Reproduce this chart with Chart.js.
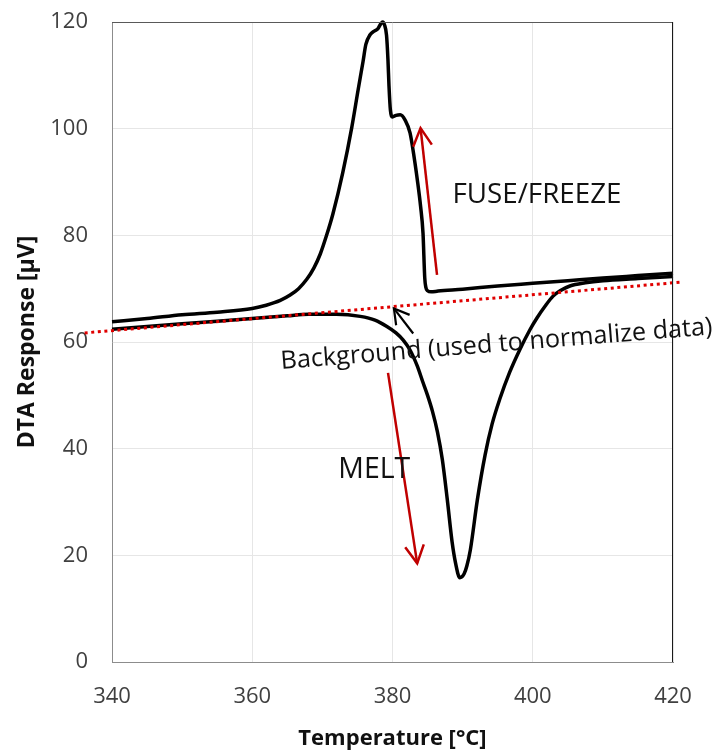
<!DOCTYPE html>
<html><head><meta charset="utf-8">
<script src="https://cdn.jsdelivr.net/npm/chart.js@4/dist/chart.umd.min.js"></script>
<style>html,body{margin:0;padding:0;background:#fff}canvas{display:block}</style>
</head><body>
<canvas id="c" width="719" height="751"></canvas>
<script>
// ---- data ----
const meltT = [340,345,350,355,360,365,368,372,375.4,377.5,379.2,380.5,381.5,382.5,383.5,384.3,385.0,385.7,386.4,387.1,387.8,388.5,389,389.6,390.2,390.6,391.1,392.1,393.2,394.2,395.3,396.7,398.2,399.6,400.6,401.8,402.9,403.9,405.3,407.5,410,415,420];
const meltV = [62.4,62.9,63.4,63.9,64.4,64.9,65.2,65.2,64.8,64.1,62.9,61.7,60.4,58.5,55.6,52.6,50,47,43.2,38,30.6,22.5,18.5,15.8,16.5,18,21,30.4,38.8,44.6,49.3,54.3,58.7,62.3,64.5,66.8,68.6,69.6,70.5,71.1,71.5,71.9,72.3];
const freezeT = [420,415,410,405,400,395,390,386.5,385.5,385.0,384.75,384.6,384.35,384.0,383.6,383.1,382.5,381.8,381.1,380.5,380.0,379.7,379.5,379.35,379.15,378.85,378.6,378.3,377.9,377.4,376.8,376.2,375.8,375.1,374.2,372.9,371.5,370.6,369.7,368.8,367.8,366.6,365.4,364,362,360,355,350,345,340];
const freezeV = [72.9,72.45,72.0,71.5,71.0,70.5,69.9,69.55,69.4,69.6,70.3,72,80.4,85.5,89.8,94.5,99.2,101.6,102.6,102.5,102.2,103.5,108,113,117.5,119.5,120,119.6,118.7,118.3,117.6,115.8,112.6,107.3,100.3,91.7,84.0,80.0,76.5,73.9,71.8,70.0,68.8,67.8,66.9,66.3,65.6,65.1,64.4,63.8];
const backgroundT = [336.1, 421.4];
const backgroundV = [61.7, 71.25];
const xTickValues = [340,360,380,400,420];
const yTickValues = [0,20,40,60,80,100,120];
const xTitle = 'Temperature [°C]';
const yTitle = 'DTA Response [µV]';

// ---- annotations (positions in data space) ----
const arrowNotes = [
  {from:[386.35,72.6], to:[384.0,100.1], color:'#c00000', width:2.5, head:20, ang:28},
  {from:[379.36,54.2], to:[383.52,18.5], color:'#c00000', width:2.5, head:20, ang:28},
  {from:[382.95,61.6], to:[380.2,66.3], color:'#000000', width:2.2, head:17, ang:30}
];
const textNotes = [
  {text:'FUSE/FREEZE', at:[400.6,87.6], width:169, rot:0},
  {text:'MELT', at:[377.4,36], width:72, rot:0},
  {text:'Background (used to normalize data)', at:[394.83,59.53], width:433, rot:-4.6}
];

const zip = (a,b) => a.map((v,i)=>({x:v,y:b[i]}));
const FONT = "'Open Sans', 'Noto Sans', sans-serif";

const notesPlugin = {
  id:'notes',
  afterDraw(chart){
    const {ctx, chartArea:a, scales:{x,y}} = chart;
    ctx.save();
    ctx.lineWidth = 1;
    ctx.strokeStyle = '#595959';
    ctx.beginPath(); ctx.moveTo(a.left, a.top+0.5); ctx.lineTo(a.right, a.top+0.5); ctx.stroke();
    ctx.strokeStyle = '#1a1a1a';
    ctx.beginPath(); ctx.moveTo(a.right-0.5, a.top); ctx.lineTo(a.right-0.5, a.bottom); ctx.stroke();
    arrowNotes.forEach(n=>{
      const x0=x.getPixelForValue(n.from[0]), y0=y.getPixelForValue(n.from[1]);
      const x1=x.getPixelForValue(n.to[0]), y1=y.getPixelForValue(n.to[1]);
      const th=Math.atan2(y0-y1, x0-x1);
      const r=n.ang*Math.PI/180;
      ctx.strokeStyle=n.color; ctx.lineWidth=n.width; ctx.lineCap='butt'; ctx.lineJoin='miter';
      ctx.beginPath(); ctx.moveTo(x0,y0); ctx.lineTo(x1,y1); ctx.stroke();
      ctx.beginPath();
      ctx.moveTo(x1+n.head*Math.cos(th+r), y1+n.head*Math.sin(th+r));
      ctx.lineTo(x1,y1);
      ctx.lineTo(x1+n.head*Math.cos(th-r), y1+n.head*Math.sin(th-r));
      ctx.stroke();
    });
    textNotes.forEach(n=>{
      ctx.font = '100px ' + FONT;
      const w = ctx.measureText(n.text).width;
      const size = 100*n.width/w;
      ctx.font = size.toFixed(2)+'px '+FONT;
      ctx.fillStyle='#111111';
      ctx.textAlign='center'; ctx.textBaseline='middle';
      const px=x.getPixelForValue(n.at[0]), py=y.getPixelForValue(n.at[1]);
      ctx.save(); ctx.translate(px,py); ctx.rotate(n.rot*Math.PI/180);
      ctx.fillText(n.text,0,0); ctx.restore();
    });
    ctx.restore();
  }
};

new Chart(document.getElementById('c'), {
  type:'scatter',
  data:{datasets:[
    {label:'Background', data:zip(backgroundT,backgroundV), showLine:true, borderColor:'#e00000', borderWidth:3, borderDash:[3,3.6], pointRadius:0, clip:false, order:0, tension:0},
    {label:'Melt', data:zip(meltT,meltV), showLine:true, borderColor:'#000', borderWidth:3.5, pointRadius:0, cubicInterpolationMode:'monotone', order:1, clip:false},
    {label:'Freeze', data:zip(freezeT,freezeV), showLine:true, borderColor:'#000', borderWidth:3.5, pointRadius:0, cubicInterpolationMode:'monotone', order:2, clip:false}
  ]},
  options:{
    responsive:false, animation:false,
    layout:{padding:{left:0, top:22, right:46, bottom:0}},
    plugins:{legend:{display:false}, tooltip:{enabled:false}},
    scales:{
      x:{type:'linear', min:340, max:420,
        afterBuildTicks:s=>{s.ticks = xTickValues.map(v=>({value:v}));},
        afterFit:s=>{s.height=89; s.paddingLeft=0; s.paddingRight=0;},
        grid:{color:'#e6e6e6', drawTicks:false, lineWidth:1},
        border:{color:'#8c8c8c', width:1},
        ticks:{padding:22, color:'#404040', font:{family:FONT, size:22}},
        title:{display:true, text:xTitle, color:'#111', font:{family:FONT, size:22, weight:'bold', lineHeight:1}, padding:{top:0,bottom:1}}
      },
      y:{type:'linear', min:0, max:120,
        afterBuildTicks:s=>{s.ticks = yTickValues.map(v=>({value:v}));},
        afterFit:s=>{s.width=112; s.paddingTop=0; s.paddingBottom=0;},
        grid:{color:'#e6e6e6', drawTicks:false, lineWidth:1},
        border:{color:'#8c8c8c', width:1},
        ticks:{padding:24, color:'#404040', font:{family:FONT, size:22}},
        title:{display:true, text:yTitle, color:'#111', font:{family:FONT, size:23, weight:'bold', lineHeight:1}, padding:{top:15.5,bottom:0}}
      }
    }
  },
  plugins:[notesPlugin]
});
</script>
</body></html>
